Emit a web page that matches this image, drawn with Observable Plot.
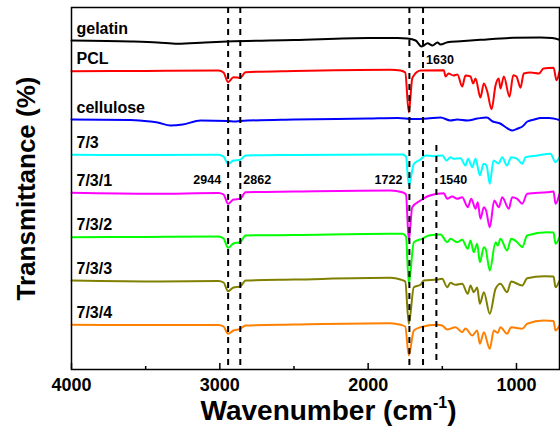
<!DOCTYPE html>
<html><head><meta charset="utf-8">
<script src="https://cdn.jsdelivr.net/npm/d3@7"></script>
<script src="https://cdn.jsdelivr.net/npm/@observablehq/plot@0.6"></script>
<style>
html,body{margin:0;padding:0;background:#fff;}
#chart svg{display:block;}
</style></head><body><div id="chart"></div>
<script>
// ---- data (wavenumber cm-1, stacked transmittance a.u.) ----
const seriesNames = ["gelatin","PCL","cellulose","7/3","7/3/1","7/3/2","7/3/3","7/3/4"];
const seriesColors = ["#000000","#ff0000","#0000ff","#00ffff","#ff00ff","#00ff00","#808000","#ff8000"];

const gelatin = [[4000,330],[3600,329],[3420,328],[3285,326.7],[3100,328],[2948,329],[2500,330.5],[2000,332.5],[1800,332.5],[1735,332],[1680,330],[1640,324],[1625,325],[1600,327.3],[1566,325],[1533,328],[1512,326],[1465,328.3],[1377,329.3],[1243,330.7],[1020,332.7],[838,333],[760,332.5],[710,330.7]];
const pcl = [[4000,299.3],[3500,299.5],[3009,300],[2975,298],[2944,288.3],[2908,293.3],[2862,292.7],[2827,298.3],[2500,299.5],[1849,300.7],[1782,300],[1750,298],[1726,258.3],[1703,292],[1692,295],[1647,300],[1490,300.3],[1478,294],[1458,297],[1425,295],[1398,296],[1366,284],[1344,295],[1310,294],[1292,287],[1276,292],[1243,273],[1220,287],[1197,279],[1168,261.3],[1141,285.3],[1120,292],[1108,282],[1085,294],[1047,273.7],[1022,295.3],[1000,294],[973,282.7],[951,297],[905,298],[848,297],[818,302],[750,302.7],[730,290.3],[710,299]];
const cellulose = [[4000,251],[3600,250.5],[3470,249],[3420,248],[3333,245],[3250,246],[3130,250],[2944,249.5],[2900,249],[2862,249.5],[2500,251],[2000,252],[1800,252.5],[1700,251.5],[1600,252],[1512,253],[1445,250],[1400,251],[1330,250],[1263,252],[1200,253],[1160,249],[1110,247],[1060,242],[1027,240],[990,242],[960,244],[926,249],[880,251],[838,252.5],[780,252.5],[710,250.5]];
const s73 = [[4000,215.7],[3500,215.5],[3009,215.7],[2975,214],[2944,206.7],[2908,210],[2862,210.7],[2827,215],[2500,215.5],[1849,216],[1770,216],[1745,214],[1726,185],[1692,206.7],[1647,211],[1613,215],[1559,214.3],[1499,215],[1472,210],[1445,213.3],[1425,211.7],[1377,212.3],[1344,205],[1326,211.7],[1298,203.3],[1276,211.7],[1247,195],[1222,206.7],[1202,205],[1180,186.7],[1155,210],[1121,207],[1096,213.3],[1064,205],[1036,213.3],[995,211.7],[961,206.7],[939,213.3],[860,215],[771,216.7],[737,208.3],[710,213.3]];
const s731 = [[4000,177.7],[3447,176.7],[3009,177.5],[2975,176],[2944,166.7],[2908,171],[2862,171.7],[2827,178.3],[2500,179],[1849,180],[1770,178.3],[1745,176],[1726,130],[1703,163.3],[1647,170],[1602,174],[1534,176.7],[1490,177.3],[1467,171.7],[1433,174],[1400,171.7],[1366,173.3],[1328,163.3],[1305,171.7],[1276,161.7],[1261,168.3],[1243,151.7],[1220,163.3],[1205,160],[1180,143.3],[1150,170],[1119,163.3],[1096,173.3],[1052,161.7],[1029,173.3],[995,171.7],[961,166.7],[928,176.7],[793,178.3],[750,179],[737,166.7],[710,176.7]];
const s732 = [[4000,133.3],[3500,133.5],[3009,134],[2975,132],[2944,122.7],[2908,127],[2862,128.3],[2827,135],[2500,135.5],[1849,136.7],[1770,136.7],[1745,134],[1726,87],[1692,128.3],[1636,131.7],[1591,135],[1512,136],[1467,128.3],[1445,131.7],[1400,128.3],[1366,130.7],[1328,121.7],[1310,130],[1288,118.3],[1265,126.7],[1247,108.3],[1220,123.3],[1209,122],[1180,100],[1141,128.3],[1126,125],[1108,131.7],[1063,120],[1036,131.7],[995,128.3],[961,123.3],[928,135],[793,138.3],[750,138],[737,126.7],[710,133.3]];
const s733 = [[4000,90],[3400,89],[3009,89.5],[2975,88],[2944,79.3],[2908,83],[2862,84],[2827,90],[2500,91],[1849,92.7],[1782,91],[1750,89],[1726,46.7],[1692,83.3],[1647,85.7],[1625,90],[1534,91],[1501,91.7],[1467,83.3],[1445,87.7],[1411,85.7],[1366,86.7],[1328,76.7],[1310,85],[1288,78.3],[1265,83],[1247,66.7],[1220,78.3],[1180,56.7],[1141,81.7],[1108,86.7],[1063,78.3],[1036,89],[961,85],[928,92.3],[816,94.3],[750,94],[737,83.3],[710,90]];
const s734 = [[4000,45.7],[3500,45.5],[3009,45.5],[2975,44],[2944,36.7],[2908,40],[2862,41.7],[2827,45],[2500,46],[1849,47.3],[1782,45.7],[1750,44],[1726,15],[1692,40],[1647,43.3],[1534,45.7],[1501,45],[1467,41],[1411,43.3],[1366,38.3],[1344,42],[1298,35],[1265,40],[1247,26.7],[1220,38.3],[1180,21.7],[1153,40],[1126,37.7],[1108,43.3],[1063,36.7],[1036,43.3],[961,41.7],[928,46.7],[816,50],[750,49.5],[737,40],[710,45]];

const xTicks = [4000, 3000, 2000, 1000];
const xMinorTicks = [3500, 2500, 1500];
const peaks = [2944, 2862, 1722, 1630, 1540];

// ---- build table ----
const allSeries = [gelatin, pcl, cellulose, s73, s731, s732, s733, s734];
const rows = allSeries.flatMap((pts, i) => pts.map(([w, v]) => ({name: seriesNames[i], w, v})));
const starts = allSeries.map((pts, i) => ({name: seriesNames[i], w: pts[0][0], v: pts[0][1]}));

const font = "'Liberation Sans', Arial, Helvetica, sans-serif";
const dash = "6,5";

const chart = Plot.plot({
  width: 560,
  height: 432,
  marginLeft: 71,
  marginRight: 1,
  marginTop: 7,
  marginBottom: 63,
  style: {fontFamily: font, background: "#fff", overflow: "visible"},
  x: {domain: [4000, 710], label: null},
  y: {domain: [1, 363], axis: null, label: null},
  color: {domain: seriesNames, range: seriesColors},
  marks: [
    Plot.line(rows, {x: "w", y: "v", z: "name", stroke: "name", strokeWidth: 2, curve: "monotone-x"}),
    Plot.ruleX(peaks.filter(p => p !== 1540), {x: d => d, stroke: "#000", strokeWidth: 2, strokeDasharray: dash}),
    Plot.ruleX(peaks.filter(p => p === 1540), {x: d => d, y1: 10, y2: 230, stroke: "#000", strokeWidth: 2, strokeDasharray: dash}),
    Plot.text(starts, {x: "w", y: "v", text: "name", dx: 5, dy: -7, textAnchor: "start", lineAnchor: "bottom", fontSize: 16, fontWeight: "bold", fill: "#000"}),
    Plot.text(peaks.filter(p => p === 2944 || p === 1722), {x: d => d, frameAnchor: "top", dy: 176, dx: -7, text: d => String(d), textAnchor: "end", lineAnchor: "bottom", fontSize: 12.5, fontWeight: "bold", fill: "#000"}),
    Plot.text(peaks.filter(p => p === 2862 || p === 1540), {x: d => d, frameAnchor: "top", dy: 176, dx: 3, text: d => String(d), textAnchor: "start", lineAnchor: "bottom", fontSize: 12.5, fontWeight: "bold", fill: "#000"}),
    Plot.text(peaks.filter(p => p === 1630), {x: d => d, frameAnchor: "top", dy: 56, dx: 3, text: d => String(d), textAnchor: "start", lineAnchor: "bottom", fontSize: 12.5, fontWeight: "bold", fill: "#000"}),
    Plot.axisX(xTicks, {tickSize: -6, tickFormat: () => "", label: null, strokeWidth: 1.5}),
    Plot.axisX(xMinorTicks, {tickSize: -3, tickFormat: () => "", label: null, strokeWidth: 1.5}),
    Plot.axisX(xTicks, {tickSize: 0, tickPadding: 9, label: null, fontSize: 18, fontWeight: "bold", tickFormat: d => String(d)}),
    Plot.text(["Wavenumber (cm-1)"], {frameAnchor: "bottom", dy: 50, dx: 13, textAnchor: "middle", lineAnchor: "bottom", fontSize: 28, fontWeight: "bold", fill: "#000"}),
    Plot.text(["Transmittance (%)"], {frameAnchor: "left", rotate: -90, dx: -45, textAnchor: "middle", lineAnchor: "middle", fontSize: 26, fontWeight: "bold", fill: "#000"}),
    Plot.frame({stroke: "#000", strokeWidth: 1.5})
  ]
});

document.getElementById("chart").appendChild(chart);

// superscript for cm-1
d3.select(chart).selectAll("text").filter(function () { return this.textContent === "Wavenumber (cm-1)"; }).each(function () {
  const t = d3.select(this);
  t.text(null);
  t.append("tspan").text("Wavenumber (cm");
  t.append("tspan").attr("dy", -12).attr("font-size", 16).text("-1");
  t.append("tspan").attr("dy", 12).text(")");
});
</script>
</body></html>
